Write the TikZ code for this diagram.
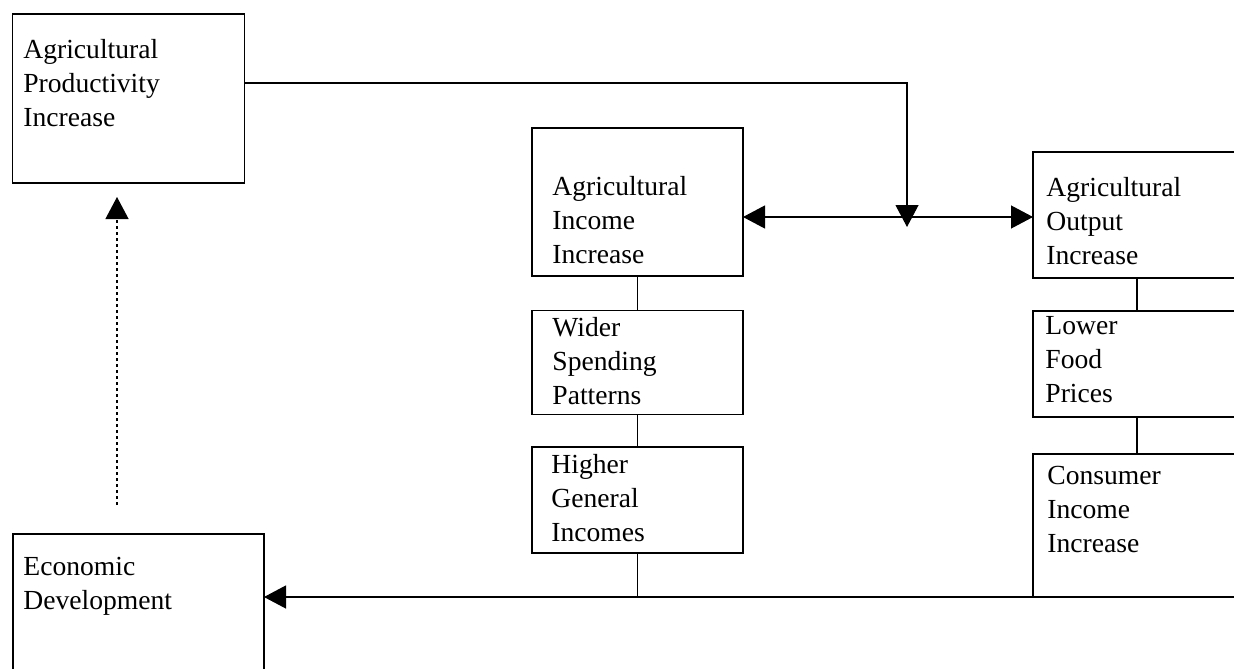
\documentclass[tikz,border=0pt]{standalone}
\usepackage{fontspec}
\setmainfont{Liberation Serif}
\usetikzlibrary{arrows.meta}
\begin{document}
\begin{tikzpicture}[x=0.5pt,y=-0.5pt,
  box/.style={draw,line width=0.6pt,rectangle,inner sep=0pt,outer sep=0pt},
  lbl/.style={anchor=north west,inner sep=0pt,align=left,font=\fontsize{13.8}{16.9}\selectfont},
  conn/.style={line width=0.6pt},
  tri/.style={-{Triangle[length=11pt,width=11.5pt]}}]
\useasboundingbox (0,0) rectangle (1234,668);
\clip (0,0) rectangle (1234,668);
% boxes
\node[box,minimum width=115.75pt,minimum height=84.5pt] (A) at (128.5,98.5) {};
\node[box,minimum width=105.5pt,minimum height=74pt] (B) at (637.5,202) {};
\node[box,minimum width=113.5pt,minimum height=63pt] (C) at (1146.5,215) {};
\node[box,minimum width=105.5pt,minimum height=52pt] (D) at (637.5,362.5) {};
\node[box,minimum width=105.5pt,minimum height=53pt] (E) at (637.5,500) {};
\node[box,minimum width=113.5pt,minimum height=53pt] (F) at (1146.5,364) {};
\node[box,minimum width=113.5pt,minimum height=71.5pt] (G) at (1146.5,525.5) {};
\node[box,minimum width=125.5pt,minimum height=83pt] (H) at (138.5,617) {};
% texts
\node[lbl] (tA) at (23,39) {Agricultural\\Productivity\\Increase};
\node[lbl] (tB) at (552,176) {Agricultural\\Income\\Increase};
\node[lbl] (tC) at (1046,177) {Agricultural\\Output\\Increase};
\node[lbl] (tD) at (552,317) {Wider\\Spending\\Patterns};
\node[lbl] (tE) at (551,454) {Higher\\General\\Incomes};
\node[lbl] (tF) at (1045,316) {Lower\\Food\\Prices};
\node[lbl] (tG) at (1047,466) {Consumer\\Income\\Increase};
\node[lbl] (tH) at (23,557) {Economic\\Development};
% coordinates
\coordinate (jtip) at (907,227);
\coordinate (bottom) at (637,597);
\coordinate (dstart) at (117,505);
\coordinate (dend) at (117,197);
% connectors
\draw[conn,tri] (A.east |- 0,83) -| (jtip);
\draw[conn,{Triangle[length=11pt,width=11.5pt]}-{Triangle[length=11pt,width=11.5pt]}] (B.east |- 0,217) -- (C.west |- 0,217);
\draw[conn] (B.south) -- (D.north);
\draw[conn] (D.south) -- (E.north);
\draw[conn] (C.south -| 1137,0) -- (F.north -| 1137,0);
\draw[conn] (F.south -| 1137,0) -- (G.north -| 1137,0);
\draw[conn] (E.south) -- (E.south |- bottom);
\draw[conn,tri] (G.south west) -- (H.east |- G.south west);
\draw[conn,tri,dash pattern=on 1.5pt off 1.5pt] (dstart) -- (dend);
\end{tikzpicture}
\end{document}
